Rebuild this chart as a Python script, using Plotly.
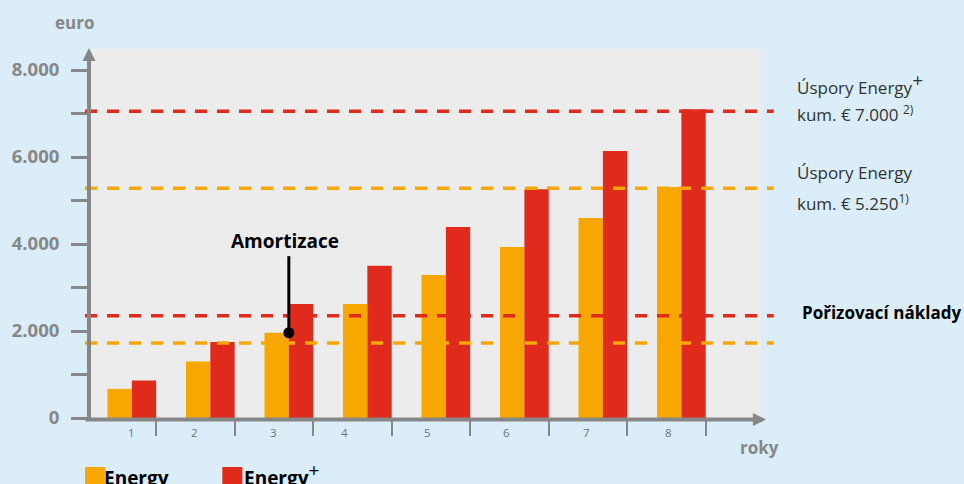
import plotly.graph_objects as go

YEARS = [1, 2, 3, 4, 5, 6, 7, 8]
YEAR_LABELS = ["1", "2", "3", "4", "5", "6", "7", "8"]
ENERGY = [670, 1300, 1960, 2620, 3290, 3930, 4600, 5310]
ENERGY_PLUS = [860, 1750, 2620, 3500, 4390, 5260, 6140, 7100]

Y_TICKS = [0, 1000, 2000, 3000, 4000, 5000, 6000, 7000, 8000]
Y_TICK_TEXT = ["0", " ", "2.000", " ", "4.000", " ", "6.000", " ", "8.000"]

SAVINGS_PLUS = 7050      # Úspory Energy+ kum.
SAVINGS = 5280           # Úspory Energy kum.
COST_PLUS = 2350         # Pořizovací náklady Energy+
COST = 1725              # Pořizovací náklady Energy
AMORT_YEAR = 3

# layout constants
ORANGE = "#f8a600"
RED = "#df2a1c"
GRAY = "#878787"
BG = "#daedf8"
PLOT_BG = "#ececec"
FONT = "Open Sans"
BAR_W = 0.31
LABEL_X = [0.99, 1.80, 2.81, 3.71, 4.77, 5.77, 6.79, 7.84]
PLUS = '<sup><span style="font-size:19px">+</span></sup>'

fig = go.Figure()
fig.add_trace(go.Bar(x=YEARS, y=ENERGY, width=BAR_W, offset=-BAR_W,
                     marker=dict(color=ORANGE, line=dict(width=0)), name="Energy",
                     showlegend=False))
fig.add_trace(go.Bar(x=YEARS, y=ENERGY_PLUS, width=BAR_W, offset=0,
                     marker=dict(color=RED, line=dict(width=0)), name="Energy+",
                     showlegend=False))

# dashed reference lines
for val, col in [(SAVINGS_PLUS, RED), (SAVINGS, ORANGE), (COST_PLUS, RED), (COST, ORANGE)]:
    fig.add_shape(type="line", xref="paper", yref="y", x0=-0.009, x1=1.019,
                  y0=val, y1=val, line=dict(color=col, width=3.5, dash="12px,10px"),
                  layer="above")

# amortization marker
fig.add_shape(type="line", xref="x", yref="y", x0=AMORT_YEAR, x1=AMORT_YEAR,
              y0=ENERGY[AMORT_YEAR - 1], y1=3720, line=dict(color="black", width=3))
fig.add_trace(go.Scatter(x=[AMORT_YEAR], y=[ENERGY[AMORT_YEAR - 1]], mode="markers",
                         marker=dict(color="black", size=11), showlegend=False,
                         hoverinfo="skip", cliponaxis=False))

ann = []
ann.append(dict(x=2.95, y=4080, xref="x", yref="y", text="<b>Amortizace</b>",
                showarrow=False, xanchor="center", yanchor="middle",
                font=dict(size=19, color="black", family=FONT)))

# axes with arrowheads
ann.append(dict(x=-0.003, y=1.0027, xref="paper", yref="paper", text="", showarrow=True,
                axref="pixel", ayref="pixel", ax=0, ay=373, arrowhead=2, arrowwidth=4,
                arrowsize=0.65, arrowcolor=GRAY, standoff=0))
ann.append(dict(x=1.0074, y=-0.004, xref="paper", yref="paper", text="", showarrow=True,
                axref="pixel", ayref="pixel", ax=-682, ay=0, arrowhead=2, arrowwidth=4,
                arrowsize=0.65, arrowcolor=GRAY, standoff=0))

# x tick labels
for lx, lt in zip(LABEL_X, YEAR_LABELS):
    ann.append(dict(x=lx, y=-0.038, xref="x", yref="paper", text=lt, showarrow=False,
                    xanchor="center", yanchor="middle",
                    font=dict(size=11.5, color="#707070", family=FONT)))

ann.append(dict(x=-0.025, y=1.073, xref="paper", yref="paper", text="<b>euro</b>",
                showarrow=False, xanchor="center", yanchor="middle",
                font=dict(size=17, color=GRAY, family=FONT)))
ann.append(dict(x=0.9985, y=-0.079, xref="paper", yref="paper", text="<b>roky</b>",
                showarrow=False, xanchor="center", yanchor="middle",
                font=dict(size=17, color=GRAY, family=FONT)))

right_txt = [
    ("Úspory Energy" + PLUS, 0.907),
    ("kum. € 7.000 <sup>2)</sup>", 0.824),
    ("Úspory Energy", 0.664),
    ("kum. € 5.250<sup>1)</sup>", 0.585),
]
for t, yy in right_txt:
    ann.append(dict(x=1.0505, y=yy, xref="paper", yref="paper", text=t, showarrow=False,
                    xanchor="left", yanchor="middle",
                    font=dict(size=17, color="#333333", family=FONT)))
ann.append(dict(x=1.0575, y=0.287, xref="paper", yref="paper",
                text="<b>Pořizovací náklady</b>", showarrow=False, xanchor="left",
                yanchor="middle", font=dict(size=17, color="black", family=FONT)))

# legend
shapes_leg = [
    dict(type="rect", xref="paper", yref="paper", x0=-0.0089, x1=0.0208, y0=-0.1328,
         y1=-0.19, fillcolor=ORANGE, line=dict(width=0)),
    dict(type="rect", xref="paper", yref="paper", x0=0.196, x1=0.2259, y0=-0.1328,
         y1=-0.19, fillcolor=RED, line=dict(width=0)),
]
for s in shapes_leg:
    fig.add_shape(**s)
ann.append(dict(x=0.016, y=-0.202, xref="paper", yref="paper", text="<b>Energy</b>",
                showarrow=False, xanchor="left", yanchor="bottom",
                font=dict(size=19, color="black", family=FONT)))
ann.append(dict(x=0.226, y=-0.202, xref="paper", yref="paper",
                text="<b>Energy</b>" + PLUS, showarrow=False, xanchor="left",
                yanchor="bottom", font=dict(size=19, color="black", family=FONT)))

fig.update_layout(
    width=964, height=484,
    margin=dict(l=88, r=203, t=49, b=66),
    paper_bgcolor=BG, plot_bgcolor=PLOT_BG,
    barmode="overlay",
    annotations=ann,
    font=dict(family=FONT),
    xaxis=dict(range=[0.48, 9.014], showgrid=False, zeroline=False, showline=False,
               tickmode="array", tickvals=[y + BAR_W for y in YEARS],
               ticktext=[" "] * len(YEARS), ticks="outside", ticklen=17, tickwidth=2,
               tickcolor=GRAY, fixedrange=True),
    yaxis=dict(range=[0, 8483], showgrid=False, zeroline=False, showline=False,
               tickmode="array", tickvals=Y_TICKS, ticktext=Y_TICK_TEXT,
               ticks="outside", ticklen=19, tickwidth=2.5, tickcolor=GRAY,
               ticklabelstandoff=8,
               tickfont=dict(size=18.5, color=GRAY, family=FONT, weight="bold"),
               fixedrange=True),
)

fig.write_html("out.html", config={"displayModeBar": False},
               post_script="document.body.style.margin='0';")
